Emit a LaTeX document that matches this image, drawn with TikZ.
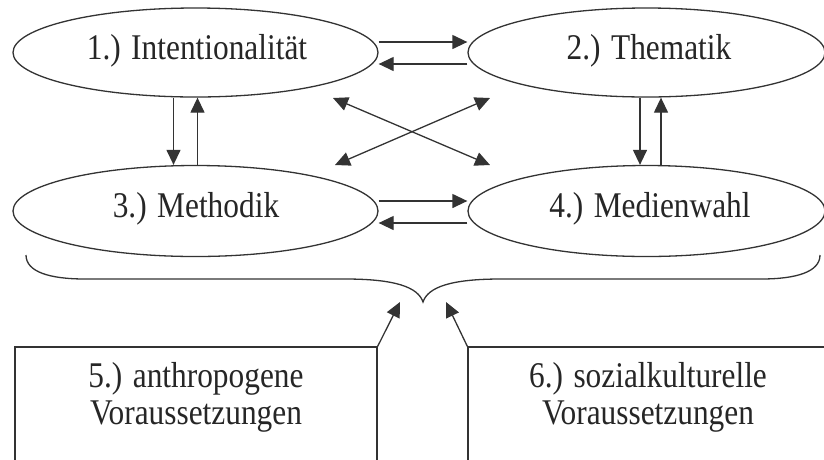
\documentclass[tikz,border=0pt]{standalone}
\usepackage{fontspec}
\usepackage{graphicx}
\setmainfont{Liberation Serif}
\usetikzlibrary{arrows.meta,shapes.geometric}
\definecolor{ink}{HTML}{333333}
\definecolor{txt}{HTML}{262626}
% tall, slightly condensed lettering
\newcommand\tallword[1]{\scalebox{0.98}[1.13]{#1}}
\begin{document}
\begin{tikzpicture}[x=1pt,y=-1pt,
  line width=1.3pt, draw=ink, color=ink,
  oval/.style={ellipse, draw=ink, line width=1.3pt, inner sep=0pt},
  frame/.style={rectangle, draw=ink, line width=1.3pt, inner sep=0pt},
  label/.style={text=txt, font=\fontsize{32}{35}\selectfont, inner sep=0pt, anchor=base},
  arr/.style={-{Triangle[length=15pt,width=14pt]}, draw=ink, line width=1.3pt},
  darr/.style={{Triangle[length=15pt,width=14pt]}-{Triangle[length=15pt,width=14pt]}, draw=ink, line width=1.3pt}]
\useasboundingbox (0,0) rectangle (824,459);
\clip (0,0) rectangle (824,459);

% the four planning fields
\node[oval, minimum width=365pt, minimum height=89pt] (e1) at (195.5,52.5) {};
\node[oval, minimum width=357pt, minimum height=89pt] (e2) at (646.5,52.5) {};
\node[oval, minimum width=365pt, minimum height=91pt] (e3) at (195.5,211) {};
\node[oval, minimum width=357pt, minimum height=91pt] (e4) at (646.5,211) {};
\node[label] (t1) at (197,59) {\tallword{1.) Intentionalität}};
\node[label] (t2) at (649,59) {\tallword{2.) Thematik}};
\node[label] (t3) at (196,217) {\tallword{3.) Methodik}};
\node[label] (t4) at (650,217) {\tallword{4.) Medienwahl}};

% horizontal pairs
\draw[arr] ([yshift=10.5pt]e1.east) -- ([yshift=10.5pt]e2.west);
\draw[arr] ([yshift=-11.5pt]e2.west) -- ([yshift=-11.5pt]e1.east);
\draw[arr] ([yshift=10pt]e3.east) -- ([yshift=10pt]e4.west);
\draw[arr] ([yshift=-12pt]e4.west) -- ([yshift=-12pt]e3.east);

% vertical pairs
\draw[arr] ([xshift=-22pt]e1.south) -- ([xshift=-22pt]e3.north);
\draw[arr] ([xshift=2pt]e3.north) -- ([xshift=2pt]e1.south);
\draw[arr] ([xshift=-6.5pt]e2.south) -- ([xshift=-6.5pt]e4.north);
\draw[arr] ([xshift=14.5pt]e4.north) -- ([xshift=14.5pt]e2.south);

% diagonal cross
\coordinate (xa) at (333,98);
\coordinate (xb) at (490,165);
\coordinate (xc) at (490,98);
\coordinate (xd) at (335,165);
\draw[darr] (xa) -- (xb);
\draw[darr] (xc) -- (xd);

% brace below the four fields
\draw[ink, line width=1.3pt]
  (26,255) .. controls (26,272) and (50,279) .. (85,279) -- (345,279)
  .. controls (395,279) and (418,287) .. (423,302)
  .. controls (428,287) and (451,279) .. (501,279) -- (761,279)
  .. controls (796,279) and (820,272) .. (820,255);

% preconditions
\node[frame, minimum width=362pt, minimum height=133pt] (b5) at (196,413.5) {};
\node[frame, minimum width=372pt, minimum height=133pt] (b6) at (654,413.5) {};
\node[label] (t5a) at (196,387) {\tallword{5.) anthropogene}};
\node[label] (t5b) at (196,424) {\tallword{Voraussetzungen}};
\node[label] (t6a) at (648,387) {\tallword{6.) sozialkulturelle}};
\node[label] (t6b) at (648,424) {\tallword{Voraussetzungen}};

\coordinate (p5) at (400,302);
\coordinate (p6) at (446,302);
\draw[arr] (b5.north east) -- (p5);
\draw[arr] (b6.north west) -- (p6);
\end{tikzpicture}
\end{document}
